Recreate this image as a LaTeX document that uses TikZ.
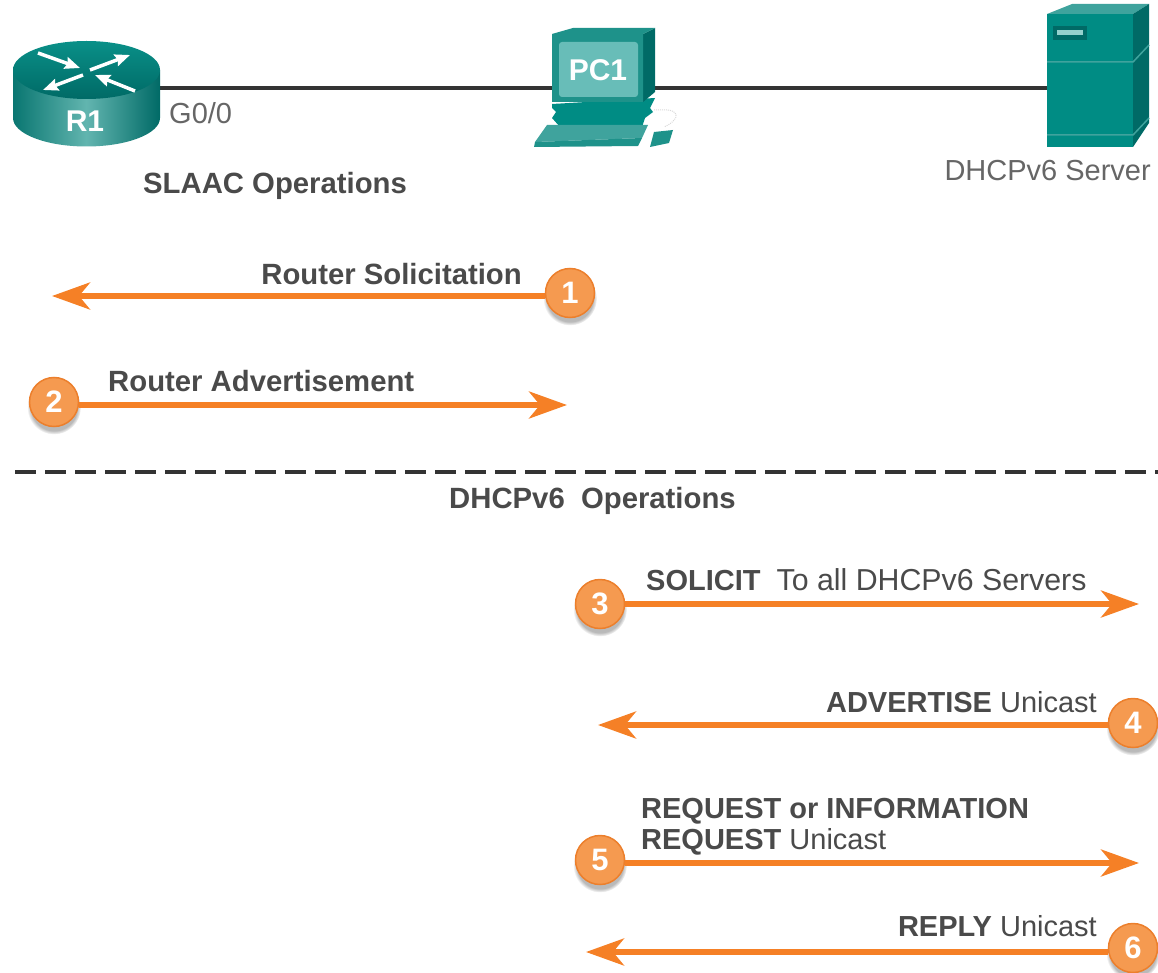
\documentclass[tikz,border=0pt]{standalone}
\usepackage{fontspec}
\setmainfont{Liberation Sans}
\usetikzlibrary{arrows.meta,shadows}
\definecolor{flowc}{HTML}{F58026}
\definecolor{badgec}{HTML}{F59A50}
\definecolor{badgeb}{HTML}{EC7F2C}
\definecolor{labelc}{HTML}{4A4A4A}
\definecolor{portc}{HTML}{666666}
\definecolor{linkc}{HTML}{333333}
\definecolor{tealm}{HTML}{008C84}
\definecolor{teald}{HTML}{006A66}
\definecolor{teals}{HTML}{1E928A}
\definecolor{teall}{HTML}{3FA39D}
\definecolor{tealh}{HTML}{62B5AF}
\definecolor{tealp}{HTML}{68BDB8}
\begin{document}
\begin{tikzpicture}[
      x=1pt, y=-1pt,
      badge/.style={circle, draw=badgeb, line width=1.5pt, fill=badgec, minimum size=49pt, inner sep=0pt,
        text=white, font=\fontsize{31}{31}\selectfont\bfseries,
        circular drop shadow={shadow xshift=0pt, shadow yshift=-5pt, shadow scale=1.1, opacity=.55}},
      flow/.style={-{Stealth[length=38pt, width=27pt, inset=11pt]}, draw=flowc, line width=5.5pt},
      link/.style={draw=linkc, line width=3.6pt},
      caption/.style={text=labelc, inner sep=0pt, font=\fontsize{29}{29}\selectfont},
      heading/.style={caption, font=\fontsize{29.3}{29.3}\selectfont\bfseries},
      devlabel/.style={text=white, inner sep=0pt, font=\fontsize{30}{30}\selectfont\bfseries},
      rarrow/.style={-{Stealth[length=15pt, width=12pt, inset=2pt]}, draw=white, line width=3.5pt}
    ]
    \useasboundingbox (0,0) rectangle (1158,973);

    % Ports on the link
    \coordinate (portR) at (160,88);
    \coordinate (portPCa) at (553,88);
    \coordinate (portPCb) at (654,88);
    \coordinate (portS) at (1048,88);
    \draw[link] (portR) -- (portPCa);
    \draw[link] (portPCb) -- (portS);

    % Router
    \shade[left color=teald!70!teals, right color=teald, middle color=tealh]
      (13,70) -- (13,118) arc[start angle=180, end angle=0, x radius=73.5, y radius=28.5]
      -- (160,70) -- cycle;
    \shade[top color=tealm!85!teall, bottom color=teald]
      (86.5,70) ellipse[x radius=73.5, y radius=29];
    \draw[rarrow] (38,53) -- (80,68);
    \draw[rarrow] (90,70) -- (130,55);
    \draw[rarrow] (83,75) -- (43,90);
    \draw[rarrow] (135,91) -- (95,75);
    \node[devlabel] (R1) at (85,121) {R1};

    % PC
    \fill[tealm] (552,104) -- (655,98) -- (650,108) -- (653,112) -- (645,118) -- (642,127) -- (560,127) -- (552,118) -- (556,112) -- (552,108) -- cycle;
    \fill[teald] (643,34) -- (655,28) -- (655,92) -- (643,102) -- cycle;
    \fill[teals] (552,34) -- (573,28) -- (655,28) -- (643,34) -- (643,102) -- (552,102) -- cycle;
    \fill[teall] (547,125) -- (648,125) -- (642,138) -- (535,142) -- cycle;
    \fill[teals] (535,142) -- (642,138) -- (638,146) -- (534,147) -- cycle;
    \fill[teals] (654,132) -- (673,130) -- (669,143) -- (650,147) -- cycle;
    \draw[gray!30, line width=1pt, densely dotted] (654,110) -- (668,110) .. controls (682,112) and (676,122) .. (664,127);
    \fill[tealp, rounded corners=3pt] (559,42) rectangle (638,97);
    \node[devlabel] (PC1) at (598,70) {PC1};

    % Server
    \fill[teall] (1047,14) -- (1072,4) -- (1149,4) -- (1133,14) -- cycle;
    \fill[teald] (1133,14) -- (1149,4) -- (1149,123) -- (1133,147) -- cycle;
    \node[fill=tealm, minimum width=86pt, minimum height=133pt, inner sep=0pt] (server) at (1090,80.5) {};
    \draw[teall, line width=1.5pt] (1047,62) -- (1133,62) -- (1149,45);
    \draw[teall, line width=1.5pt] (1047,135) -- (1133,135) -- (1149,118);
    \fill[teald] (1053,26) rectangle (1087,40);
    \fill[tealp!70!white] (1057,30) rectangle (1083,35);

    % Device labels
    \node[caption, text=portc, anchor=base west] (g00) at (169,124) {G0/0};
    \node[caption, text=portc, anchor=base east] (serverlab) at (1151,181) {DHCPv6 Server};

    % Headings
    \node[heading, anchor=base west] (slaac) at (143,194) {SLAAC Operations};
    \node[heading, anchor=base west] (dhcp) at (449,508) {DHCPv6\ \ Operations};
    \coordinate (dashA) at (15,472);
    \coordinate (dashB) at (1158,472);
    \draw[link, dash pattern=on 21pt off 9pt] (dashA) -- (dashB);

    % Badges
    \node[badge] (badge1) at (570,293) {1};
    \node[badge] (badge2) at (54,402) {2};
    \node[badge] (badge3) at (600,604) {3};
    \node[badge] (badge4) at (1133,723) {4};
    \node[badge] (badge5) at (600,860) {5};
    \node[badge] (badge6) at (1133,948) {6};

    % Tips
    \coordinate (tip1) at (52,296);
    \coordinate (tip2) at (567,405);
    \coordinate (tip3) at (1139,604);
    \coordinate (tip4) at (598,725);
    \coordinate (tip5) at (1139,863);
    \coordinate (tip6) at (586,952);

    % Messages
    \draw[flow] (badge1.west |- tip1) -- (tip1);
    \draw[flow] (badge2.east |- tip2) -- (tip2);
    \draw[flow] (badge3.east |- tip3) -- (tip3);
    \draw[flow] (badge4.west |- tip4) -- (tip4);
    \draw[flow] (badge5.east |- tip5) -- (tip5);
    \draw[flow] (badge6.west |- tip6) -- (tip6);

    % Message labels
    \node[heading, anchor=base east] (msg1) at (522,285) {Router Solicitation};
    \node[heading, anchor=base west] (msg2) at (108,391) {Router Advertisement};
    \node[caption, anchor=base west] (msg3) at (646,590) {\textbf{SOLICIT}\ \ {\fontsize{30.3}{30}\selectfont To all DHCPv6 Servers}};
    \node[caption, anchor=base east] (msg4) at (1097,712) {\textbf{ADVERTISE} Unicast};
    \node[caption, anchor=base west] (msg5a) at (641,818) {\textbf{REQUEST or INFORMATION}};
    \node[caption, anchor=base west] (msg5b) at (641,849) {\textbf{REQUEST} Unicast};
    \node[caption, anchor=base east] (msg6) at (1097,936) {\textbf{REPLY} Unicast};
  \end{tikzpicture}
\end{document}
